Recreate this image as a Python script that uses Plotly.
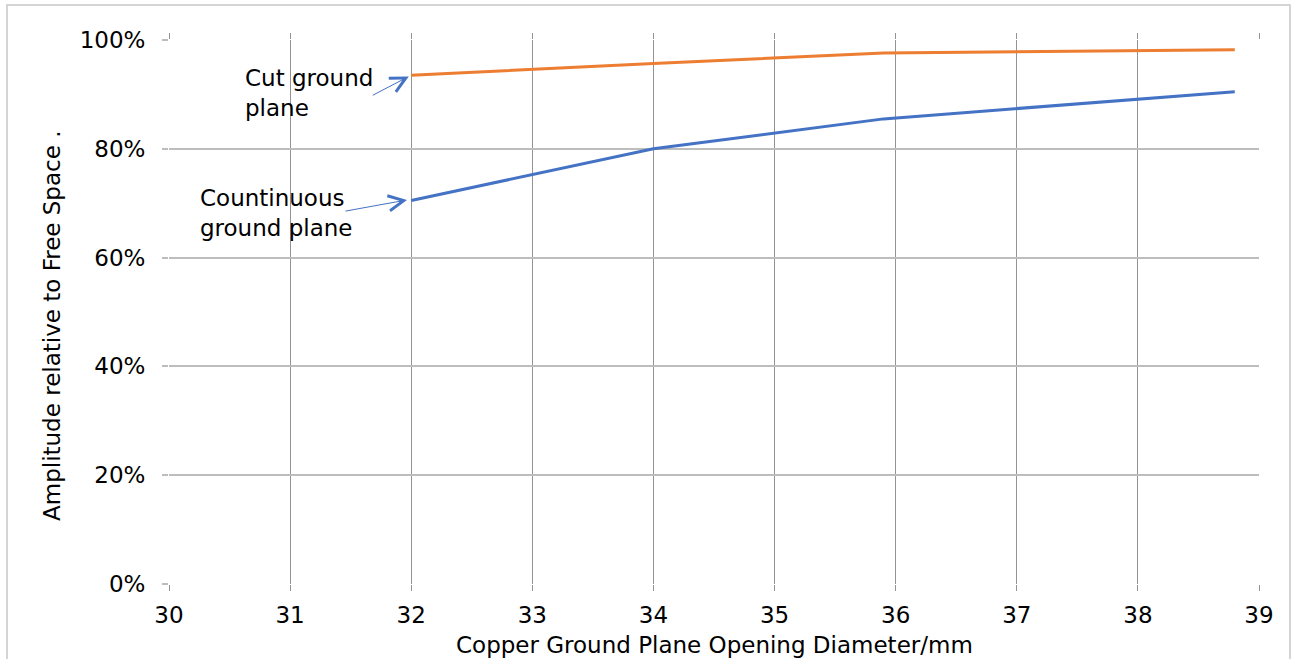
import plotly.graph_objects as go

# Data
diameter_cut = [32, 34, 35.9, 38.8]
amp_cut = [93.5, 95.7, 97.6, 98.2]
diameter_cont = [32, 34, 35.9, 38.8]
amp_cont = [70.5, 80.0, 85.5, 90.5]

x_ticks = [30, 31, 32, 33, 34, 35, 36, 37, 38, 39]
y_ticks = [0, 20, 40, 60, 80, 100]
y_tick_labels = ["0%", "20%", "40%", "60%", "80%", "100%"]

FONT = "DejaVu Sans, Verdana, sans-serif"
XGRID = "#939393"
YGRID = "#bdbdbd"
FS = 23

fig = go.Figure()
fig.add_trace(go.Scatter(x=diameter_cont, y=amp_cont, mode="lines",
                         line=dict(color="#4472C4", width=3), name="Countinuous ground plane"))
fig.add_trace(go.Scatter(x=diameter_cut, y=amp_cut, mode="lines",
                         line=dict(color="#ED7D31", width=3), name="Cut ground plane"))

W, H = 1292, 659
L, R, T, B = 169, 33, 40, 75
pw, ph = W - L - R, H - T - B

fig.update_layout(
    width=W, height=H,
    margin=dict(l=L, r=R, t=T, b=B),
    paper_bgcolor="white", plot_bgcolor="white",
    showlegend=False,
    font=dict(family=FONT, size=FS, color="#000000"),
    xaxis=dict(range=[30, 39], tickvals=x_ticks, showgrid=True, gridcolor=XGRID, gridwidth=1,
               zeroline=False, showline=False, ticks="outside", ticklen=6, tickcolor=XGRID,
               mirror="ticks", ticklabelstandoff=4, automargin=False,
               tickfont=dict(size=FS, family=FONT)),
    yaxis=dict(range=[0, 100], tickvals=y_ticks, ticktext=y_tick_labels, showgrid=True, gridcolor=YGRID, gridwidth=1.5,
               zeroline=False, showline=False, ticks="outside", ticklen=6, tickcolor=YGRID, tickwidth=1.5,
               ticklabelstandoff=12, automargin=False,
               tickfont=dict(size=FS, family=FONT)),
)

# axis titles
fig.add_annotation(x=0.5, y=(H - B - 645) / ph, xref="paper", yref="paper",
                   text="Copper Ground Plane Opening Diameter/mm", showarrow=False,
                   xanchor="center", yanchor="middle", font=dict(size=FS, family=FONT))
fig.add_annotation(x=(52 - L) / pw, y=(H - B - 326) / ph, xref="paper", yref="paper",
                   text="Amplitude relative to Free Space .", showarrow=False, textangle=-90,
                   xanchor="center", yanchor="middle", font=dict(size=FS, family=FONT))

# outer chart border
fig.add_shape(type="rect", xref="paper", yref="paper",
              x0=(7 - L) / pw, x1=(1290 - L) / pw,
              y0=(H - B - 680) / ph, y1=(H - B - 5) / ph,
              line=dict(color="#c8c8c8", width=1.5), fillcolor="rgba(0,0,0,0)", layer="below")

# text labels
fig.add_annotation(x=30.61, y=90.2, xref="x", yref="y", text="Cut ground<br>plane",
                   showarrow=False, xanchor="left", yanchor="middle", align="left",
                   font=dict(size=FS, family=FONT))
fig.add_annotation(x=30.24, y=68.2, xref="x", yref="y", text="Countinuous<br>ground plane",
                   showarrow=False, xanchor="left", yanchor="middle", align="left",
                   font=dict(size=FS, family=FONT))
# arrows
fig.add_annotation(x=31.98, y=93.3, ax=31.67, ay=89.7, xref="x", yref="y", axref="x", ayref="y",
                   text="", showarrow=True, arrowhead=5, arrowsize=3, arrowwidth=1, arrowcolor="#4472C4", standoff=0)
fig.add_annotation(x=31.965, y=70.6, ax=31.445, ay=68.5, xref="x", yref="y", axref="x", ayref="y",
                   text="", showarrow=True, arrowhead=5, arrowsize=3, arrowwidth=1, arrowcolor="#4472C4", standoff=0)

fig.write_html("out.html")
